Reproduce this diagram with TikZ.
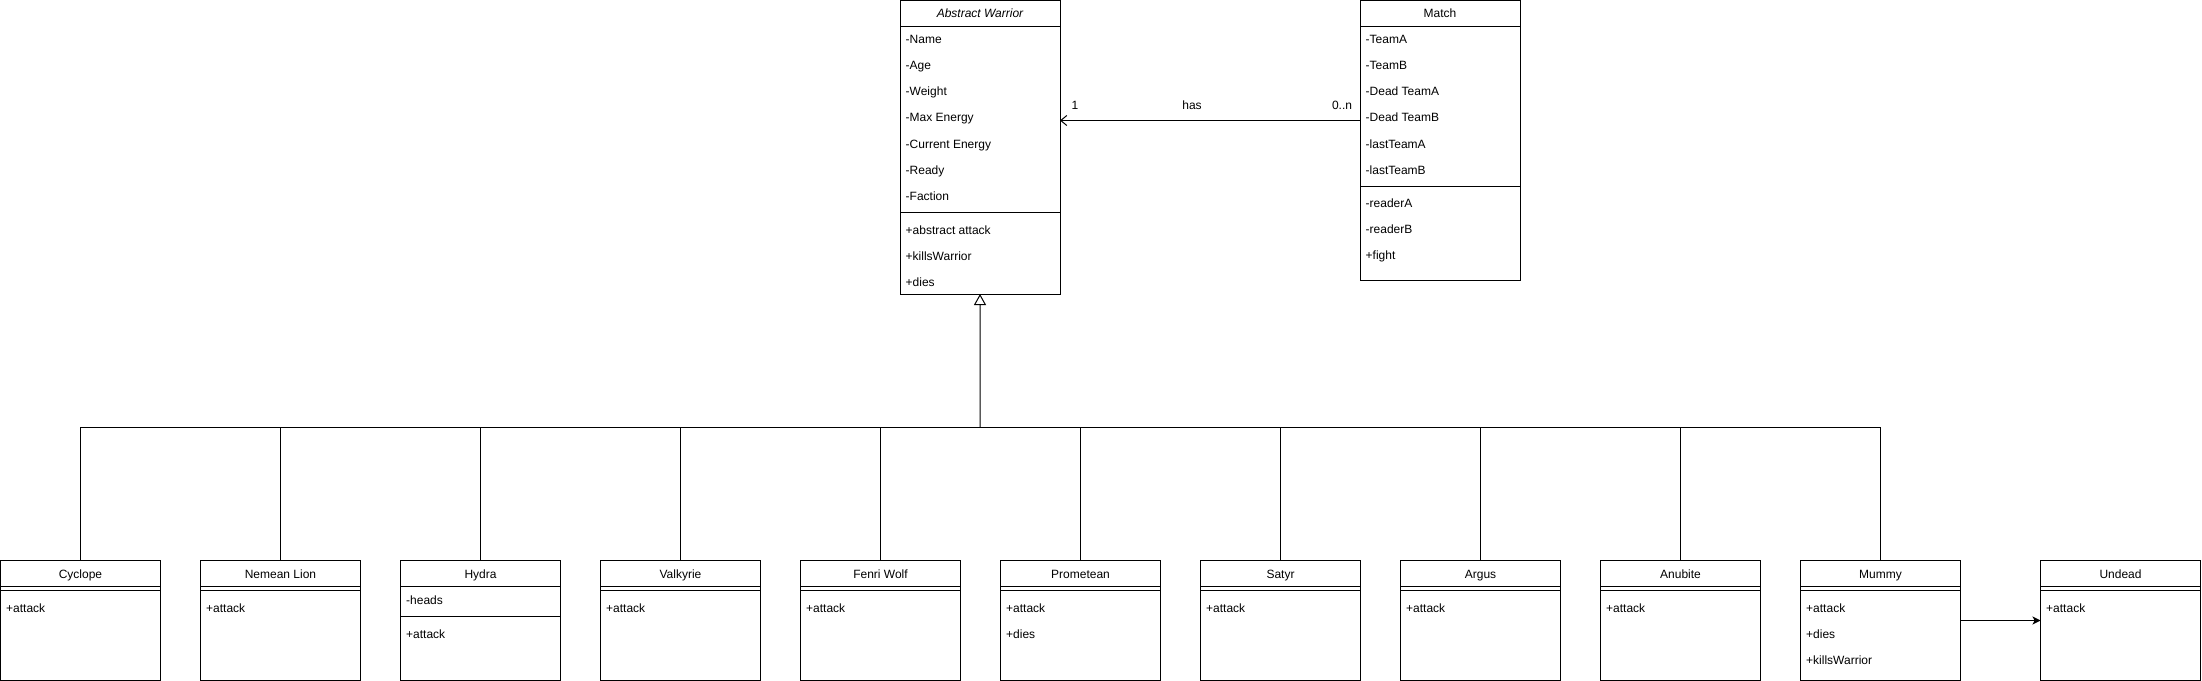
\documentclass[tikz,border=0pt]{standalone}
\usepackage{fontspec}
\setmainfont{Liberation Sans}
\usetikzlibrary{arrows.meta}
\newcommand{\umlplain}[3]{%
  \node[classbox, minimum height=120bp] (#1) at (#2,560.5) {};
  \node[title] (#1-t) at ({#2+80},578) {#3};
  \draw[divider] (#2,586.5) -- ({#2+160},586.5);
  \draw[divider] (#2,590.5) -- ({#2+160},590.5);
}
\newcommand{\umlitem}[4]{\node[item] (#1) at ({#2+5.5},#3) {#4};}
\begin{document}
\begin{tikzpicture}[x=1bp,y=-1bp,
  every node/.style={font=\fontsize{12bp}{14bp}\selectfont},
  classbox/.style={draw=black, line width=1bp, minimum width=160bp, inner sep=0pt, outer sep=0pt, anchor=north west},
  item/.style={anchor=base west, inner sep=0pt, text=black},
  title/.style={anchor=base, inner sep=0pt, text=black},
  divider/.style={line width=1bp},
  link/.style={line width=1bp},
  gen/.style={line width=1bp, -{Triangle[open, length=11bp, width=12bp]}},
  assoc/.style={line width=1bp, -{Straight Barb[length=6bp, width=10bp]}},
  dep/.style={line width=1bp, -{Stealth[length=8bp, width=8bp, inset=2bp]}},
]
\path[fill=white, use as bounding box] (0,0) rectangle (2202,681);

% Abstract Warrior
\node[classbox, minimum height=293.5bp] (aw) at (900,0.5) {};
\node[title, font=\fontsize{12bp}{14bp}\selectfont\itshape] (aw-t) at (980,18) {Abstract Warrior};
\draw[divider] (900,26.5) -- (1060,26.5);
\foreach \t [count=\i] in {-Name,-Age,-Weight,-Max Energy,-Current Energy,-Ready,-Faction}
  \node[item] (aw-a\i) at (905.5,{18+26*\i}) {\t};
\draw[divider] (900,212.5) -- (1060,212.5);
\foreach \t [count=\i] in {+abstract attack,+killsWarrior,+dies}
  \node[item] (aw-m\i) at (905.5,{208+26*\i}) {\t};

% Match
\node[classbox, minimum height=280bp] (match) at (1360,0.5) {};
\node[title] (match-t) at (1440,18) {Match};
\draw[divider] (1360,26.5) -- (1520,26.5);
\foreach \t [count=\i] in {-TeamA,-TeamB,-Dead TeamA,-Dead TeamB,-lastTeamA,-lastTeamB}
  \node[item] (match-a\i) at (1365.5,{18+26*\i}) {\t};
\draw[divider] (1360,186.5) -- (1520,186.5);
\foreach \t [count=\i] in {-readerA,-readerB,+fight}
  \node[item] (match-m\i) at (1365.5,{181.5+26*\i}) {\t};

% association
\coordinate (hasy) at (1200,120.5);
\draw[assoc] (match.west |- hasy) -- (aw.east |- hasy);
\node[title] (l-one) at (1075,110) {1};
\node[title] (l-has) at (1192,110) {has};
\node[title] (l-many) at (1342,110) {0..n};

% subclasses
\umlplain{cyclope}{0.5}{Cyclope}
\umlitem{cyclope-m1}{0.5}{612}{+attack}
\umlplain{nemean}{200.5}{Nemean Lion}
\umlitem{nemean-m1}{200.5}{612}{+attack}
% Hydra
\node[classbox, minimum height=120bp] (hydra) at (400.5,560.5) {};
\node[title] (hydra-t) at (480.5,578) {Hydra};
\draw[divider] (400.5,586.5) -- (560.5,586.5);
\umlitem{hydra-a1}{400.5}{604}{-heads}
\draw[divider] (400.5,616.5) -- (560.5,616.5);
\umlitem{hydra-m1}{400.5}{638}{+attack}
\umlplain{valkyrie}{600.5}{Valkyrie}
\umlitem{valkyrie-m1}{600.5}{612}{+attack}
\umlplain{fenri}{800.5}{Fenri Wolf}
\umlitem{fenri-m1}{800.5}{612}{+attack}
\umlplain{prometean}{1000.5}{Prometean}
\umlitem{prometean-m1}{1000.5}{612}{+attack}
\umlitem{prometean-m2}{1000.5}{638}{+dies}
\umlplain{satyr}{1200.5}{Satyr}
\umlitem{satyr-m1}{1200.5}{612}{+attack}
\umlplain{argus}{1400.5}{Argus}
\umlitem{argus-m1}{1400.5}{612}{+attack}
\umlplain{anubite}{1600.5}{Anubite}
\umlitem{anubite-m1}{1600.5}{612}{+attack}
\umlplain{mummy}{1800.5}{Mummy}
\umlitem{mummy-m1}{1800.5}{612}{+attack}
\umlitem{mummy-m2}{1800.5}{638}{+dies}
\umlitem{mummy-m3}{1800.5}{664}{+killsWarrior}
\umlplain{undead}{2040.5}{Undead}
\umlitem{undead-m1}{2040.5}{612}{+attack}

% generalization
\coordinate (bus) at (980,427.5);
\foreach \n in {cyclope,nemean,hydra,valkyrie,fenri,prometean,satyr,argus,anubite,mummy}
  \draw[link] (\n.north) |- (bus);
\draw[gen] (bus) -- (aw.south);

% Mummy -> Undead
\coordinate (depy) at (2000,620.5);
\draw[dep] (mummy.east |- depy) -- (undead.west |- depy);
\end{tikzpicture}
\end{document}
